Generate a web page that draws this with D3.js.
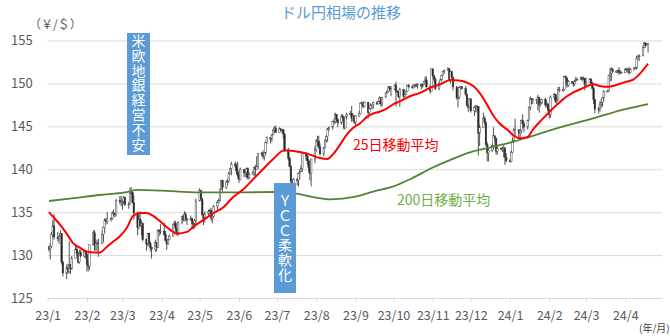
<!DOCTYPE html>
<html><head><meta charset="utf-8">
<script src="https://cdn.jsdelivr.net/npm/d3@7"></script>
<style>body{margin:0;background:#fff;overflow:hidden}</style>
</head><body><svg id="c" width="670" height="336"></svg>
<script>
// ---------- DATA ----------
const months = ["2023-01","2023-02","2023-03","2023-04","2023-05","2023-06","2023-07","2023-08","2023-09","2023-10","2023-11","2023-12","2024-01","2024-02","2024-03","2024-04"];
const firstOpen = 130.9;
const closeByMonth = [
 [130.7,131.0,132.4,133.4,132.1,131.9,132.2,132.5,129.2,127.9,128.5,128.1,128.9,128.4,129.6,130.7,130.2,129.2,130.3,129.9,130.4,130.1],
 [128.9,128.7,131.2,132.6,131.1,131.4,131.4,131.4,132.4,133.2,134.1,133.9,134.2,134.3,134.9,134.9,134.7,136.4,136.2,136.2],
 [136.2,136.7,135.9,135.9,137.2,137.3,136.1,134.9,133.2,134.2,133.4,133.7,131.8,131.3,132.5,131.4,130.9,130.7,131.5,130.9,132.9,132.7,132.8],
 [132.4,131.7,131.3,131.8,132.2,133.6,133.7,133.1,132.6,133.8,134.5,134.1,134.7,134.2,134.1,134.3,133.7,133.6,134.0,136.3],
 [137.5,136.5,134.7,134.3,134.8,135.1,135.2,134.3,134.5,135.7,136.1,136.4,137.7,138.7,137.9,138.6,138.6,139.5,140.1,140.6,140.4,139.8,139.3],
 [138.8,140.0,139.6,139.6,140.1,139.0,139.4,139.6,140.2,140.0,140.3,141.8,141.9,141.5,141.9,143.1,143.7,143.5,144.0,144.5,144.8,144.3],
 [144.7,144.5,144.6,144.1,142.1,141.3,140.3,138.6,138.1,138.8,138.7,139.5,139.7,140.1,141.8,141.5,141.0,140.2,139.5,141.2,142.3],
 [143.3,143.3,142.6,141.8,142.5,143.4,143.8,144.7,144.9,145.6,145.6,146.4,145.8,145.4,146.2,145.9,144.8,146.1,146.4,146.5,145.9,146.2,145.5],
 [146.2,146.5,147.7,147.7,147.3,147.8,146.6,147.1,147.5,147.5,147.8,147.6,147.9,148.3,147.6,148.4,148.9,149.1,149.6,149.3,149.4],
 [149.8,149.0,149.1,148.5,149.3,148.5,148.7,149.1,149.8,149.6,149.5,149.8,149.8,149.9,149.9,149.7,149.9,150.2,150.4,149.6,149.1,151.7],
 [150.9,150.5,149.4,150.0,150.4,150.9,151.4,151.5,151.7,150.4,151.4,150.7,149.6,148.3,148.4,149.5,149.6,149.4,148.7,147.4,147.2,148.2],
 [146.8,147.2,147.2,147.3,144.2,144.9,145.9,145.4,142.9,141.9,142.2,142.8,143.9,143.6,142.1,142.4,142.4,142.4,142.5,141.4,141.0],
 [140.9,142.0,143.3,144.6,144.6,144.2,144.5,145.7,145.3,144.9,145.7,147.2,148.2,148.1,148.1,148.1,148.4,147.5,147.7,148.1,147.5,147.6,146.9],
 [146.4,148.4,148.7,147.9,148.0,149.3,149.3,149.3,150.8,150.6,149.8,150.2,150.1,150.0,150.3,150.5,150.5,150.7,150.5,150.6,149.9],
 [150.1,150.5,150.0,149.4,148.1,147.0,147.0,147.6,147.8,148.3,149.1,149.1,150.9,151.2,151.6,151.4,151.4,151.5,151.3,151.3,151.3],
 [151.6,151.6,151.6,151.3,151.6,151.8,151.8,152.9,153.2,153.2,154.2,154.7,154.4,154.6,154.6]
];
const highByMonth = [
 [131.1,131.4,132.7,134.1,134.8,132.7,132.3,132.9,132.5,129.3,128.9,128.9,131.6,128.9,129.9,131.1,131.0,130.3,130.6,130.6,130.6,130.5],
 [130.5,129.3,131.2,132.9,132.9,131.6,131.8,131.9,132.9,133.3,134.3,134.3,135.0,134.4,135.1,135.3,134.9,136.5,136.9,136.9],
 [136.5,136.9,136.8,136.2,137.9,137.9,137.4,136.9,135.1,134.8,135.1,134.0,133.8,131.9,132.6,132.6,131.6,131.0,131.8,131.5,133.0,133.0,133.6],
 [133.8,132.8,131.8,131.9,132.4,133.6,134.0,134.0,133.2,133.9,134.6,134.7,135.1,135.0,134.3,134.6,134.3,134.0,134.2,136.6],
 [137.8,137.6,136.7,134.8,135.1,135.3,135.4,135.5,134.8,135.8,136.4,136.6,137.7,138.7,138.8,138.7,138.9,139.7,140.2,140.9,140.9,140.7,140.9],
 [139.5,140.2,140.0,139.8,140.2,140.2,139.6,139.8,140.3,140.5,141.5,141.9,142.0,142.2,142.0,143.2,143.8,143.7,144.1,144.7,145.0,145.1],
 [144.9,144.8,144.7,144.7,144.2,142.5,141.4,140.5,138.8,139.0,139.0,139.6,140.0,140.5,141.9,142.0,141.8,141.2,140.9,141.2,142.7],
 [143.5,143.9,143.9,143.0,142.6,143.5,144.0,144.8,145.0,145.6,145.9,146.6,146.4,145.9,146.4,146.4,146.1,146.1,146.6,146.8,147.4,146.5,146.3],
 [146.3,146.8,147.8,147.9,147.9,147.9,147.0,147.2,147.7,147.5,147.9,147.9,148.0,148.5,148.4,148.4,148.9,149.2,149.7,149.7,149.7],
 [149.9,150.2,149.2,149.1,149.5,149.3,148.8,149.2,149.8,149.9,149.8,149.9,149.9,150.0,150.0,150.0,150.0,150.3,150.8,150.8,149.8,151.7],
 [151.7,151.0,150.7,150.2,150.6,151.0,151.4,151.6,151.9,151.8,151.5,151.4,150.8,149.7,148.6,149.7,149.7,149.7,149.7,148.8,147.6,148.3],
 [148.2,147.4,147.5,147.5,147.3,145.2,146.6,146.2,145.6,143.2,142.5,143.0,144.9,143.9,143.7,142.7,142.6,142.6,142.9,141.9,141.9],
 [141.2,142.2,143.7,144.8,145.9,144.6,144.7,145.8,146.4,145.6,145.8,147.3,148.5,148.3,148.3,148.2,148.7,148.3,148.0,148.2,148.3,147.9,147.7],
 [147.0,148.6,148.9,148.8,148.4,149.6,149.6,149.6,150.9,150.9,150.7,150.4,150.2,150.2,150.4,150.8,150.6,150.8,150.6,150.8,150.6],
 [150.7,150.6,150.6,150.2,149.6,148.2,147.3,147.9,148.2,148.4,149.2,149.2,151.0,151.8,151.9,151.8,151.5,151.6,151.9,151.6,151.4],
 [151.8,151.8,151.8,151.9,151.8,151.9,151.9,153.2,153.3,153.4,154.4,154.8,154.8,154.7,154.7]
];
const lowByMonth = [
 [130.4,129.5,130.8,132.1,131.8,131.6,131.3,132.1,128.9,127.5,127.2,127.8,127.9,127.8,128.3,129.6,129.9,129.0,129.0,129.7,129.7,129.6],
 [128.1,128.1,128.3,131.2,130.5,130.5,130.5,129.8,131.3,131.5,132.6,133.6,133.6,133.9,134.1,134.5,134.4,134.5,135.9,135.7],
 [135.3,135.9,135.7,135.4,135.9,137.0,136.0,134.1,132.3,133.0,133.3,132.3,131.6,130.5,131.0,131.1,130.4,129.6,130.4,130.4,130.8,132.2,132.4],
 [132.2,131.6,130.6,131.2,131.7,132.2,133.4,132.7,132.3,132.2,133.6,133.9,134.0,133.9,133.5,134.0,133.0,133.0,133.1,133.5],
 [136.3,136.3,134.5,133.5,133.8,134.6,134.9,134.0,133.7,134.3,135.3,136.0,136.2,137.6,137.4,137.7,138.1,138.4,139.4,139.3,140.1,139.4,138.9],
 [138.4,138.7,139.1,139.1,139.0,138.8,138.8,139.3,139.2,139.0,140.0,140.0,141.5,141.2,141.0,141.6,142.9,143.0,143.2,144.0,144.2,144.3],
 [144.4,144.4,144.2,143.5,142.1,141.0,140.3,138.4,137.3,137.3,138.1,138.0,138.8,139.7,139.7,141.0,140.6,139.6,138.7,138.0,140.7],
 [142.0,142.7,142.4,141.6,141.5,142.5,143.1,143.2,144.4,144.6,145.2,145.3,145.5,144.9,145.2,145.5,144.6,144.9,145.8,146.3,145.5,145.6,145.3],
 [144.9,146.1,146.5,147.4,147.1,147.2,145.9,146.4,146.9,147.0,147.0,147.5,147.6,147.6,147.3,147.3,148.3,148.8,149.0,149.1,148.5],
 [149.2,147.3,148.9,148.3,147.3,148.2,148.4,148.7,149.1,149.5,149.4,149.4,149.5,149.6,149.4,149.3,149.5,149.8,150.1,149.5,148.8,149.1],
 [150.7,150.1,149.2,149.2,149.9,150.3,150.8,151.1,151.5,150.2,150.0,150.6,149.2,148.1,147.2,148.2,149.3,149.3,148.6,147.4,146.7,147.2],
 [146.6,146.2,146.6,146.7,141.6,142.7,144.9,145.3,142.7,140.9,140.9,142.0,142.3,143.2,141.7,141.7,142.2,142.0,141.4,140.5,140.8],
 [140.8,140.8,141.9,143.1,143.8,143.6,143.4,144.2,144.8,144.3,144.6,145.7,146.9,147.6,147.6,147.6,146.9,146.6,147.3,147.6,147.2,147.2,146.6],
 [145.9,146.0,148.1,147.7,147.6,148.0,149.0,149.0,149.2,150.0,149.5,149.6,149.9,149.6,149.7,150.2,150.3,150.4,150.2,150.4,149.2],
 [149.7,150.1,149.8,149.3,147.6,146.5,146.5,146.7,147.1,147.3,147.9,149.0,149.1,150.2,150.3,151.2,151.2,151.2,151.0,151.1,151.2],
 [151.2,151.4,151.2,151.0,151.2,151.5,151.7,151.6,152.7,152.6,153.2,154.1,154.2,154.4,153.6]
];
const ma25Dates = ["2023-01-02","2023-01-05","2023-01-11","2023-01-16","2023-01-21","2023-01-26","2023-02-01","2023-02-06","2023-02-11","2023-02-17","2023-02-22","2023-02-27","2023-03-05","2023-03-09","2023-03-15","2023-03-20","2023-03-25","2023-03-31","2023-04-08","2023-04-13","2023-04-21","2023-04-26","2023-05-04","2023-05-12","2023-05-20","2023-05-27","2023-06-04","2023-06-12","2023-06-20","2023-06-28","2023-07-07","2023-07-19","2023-07-27","2023-08-04","2023-08-10","2023-08-14","2023-08-20","2023-08-25","2023-08-30","2023-09-05","2023-09-10","2023-09-15","2023-09-20","2023-09-26","2023-10-01","2023-10-06","2023-10-14","2023-10-22","2023-10-30","2023-11-07","2023-11-15","2023-11-23","2023-11-28","2023-12-03","2023-12-08","2023-12-14","2023-12-19","2023-12-24","2023-12-30","2024-01-04","2024-01-09","2024-01-15","2024-01-19","2024-01-25","2024-01-30","2024-02-04","2024-02-10","2024-02-15","2024-02-20","2024-02-26","2024-03-02","2024-03-07","2024-03-12","2024-03-18","2024-03-22","2024-03-28","2024-04-02","2024-04-07","2024-04-13","2024-04-19"];
const ma25Values = [135.0,134.5,133.5,132.5,131.4,130.9,130.4,130.3,130.3,131.0,131.6,132.2,133.3,134.5,134.9,134.9,134.6,133.9,132.9,132.5,132.7,133.3,134.1,134.9,135.6,136.7,137.6,138.8,140.0,141.2,142.2,142.0,141.7,141.3,141.2,141.7,142.9,144.0,144.8,145.4,146.1,146.5,146.7,147.1,147.6,147.9,148.5,148.9,149.5,149.9,150.4,150.3,150.1,149.7,148.9,147.5,146.2,145.3,144.6,143.9,143.6,143.75,144.6,145.6,146.35,147.1,147.9,148.5,148.95,149.35,149.7,149.9,149.7,149.6,149.7,149.97,150.2,150.4,151.2,152.3];
const ma200Dates = ["2023-01-02","2023-01-20","2023-02-11","2023-03-03","2023-03-13","2023-04-01","2023-05-01","2023-06-01","2023-07-01","2023-07-15","2023-08-01","2023-08-12","2023-09-01","2023-09-15","2023-10-01","2023-10-15","2023-11-01","2023-11-15","2023-12-01","2023-12-15","2024-01-01","2024-01-15","2024-02-01","2024-02-15","2024-03-01","2024-03-15","2024-04-01","2024-04-19"];
const ma200Values = [136.3,136.6,137.0,137.3,137.6,137.5,137.3,137.3,137.35,137.2,136.7,136.5,136.8,137.4,138.0,138.9,140.2,141.1,142.0,142.5,143.1,143.7,144.5,145.1,145.7,146.3,147.0,147.6];
const xTickLabels = ["23/1","23/2","23/3","23/4","23/5","23/6","23/7","23/8","23/9","23/10","23/11","23/12","24/1","24/2","24/3","24/4"];
const yTickValues = [125,130,135,140,145,150,155];

// ---------- BUILD ----------
function weekdaysOf(ym){
  const [yy,m] = ym.split("-").map(Number);
  const out=[];
  for(let d=1; d<=31; d++){
    const dt = new Date(Date.UTC(yy,m-1,d));
    if(dt.getUTCMonth()!==m-1) break;
    const wd = dt.getUTCDay();
    if(wd!==0 && wd!==6) out.push(dt);
  }
  return out;
}
const candles=[];
let prev = firstOpen;
months.forEach((ym,i)=>{
  const days = weekdaysOf(ym);
  closeByMonth[i].forEach((c,j)=>{
    const h = highByMonth[i][j], l = lowByMonth[i][j];
    candles.push({date:days[j], o:prev, h:Math.max(h,prev,c), l:Math.min(l,prev,c), c});
    prev = c;
  });
});
const parse = d3.utcParse("%Y-%m-%d");
const ma25 = ma25Dates.map((d,i)=>({date:parse(d), v:ma25Values[i]}));
const ma200 = ma200Dates.map((d,i)=>({date:parse(d), v:ma200Values[i]}));

const svg = d3.select("#c");
const F = "'Noto Sans CJK JP','Noto Sans',sans-serif";
const x = d3.scaleUtc().domain([parse("2023-01-01"), parse("2024-04-30")]).range([47.7, 662]);
const y = d3.scaleLinear().domain([125,155]).range([298, 40.5]);

// grid + y labels
const gy = svg.append("g").attr("transform","translate(47.7,0)")
  .call(d3.axisLeft(y).tickValues(yTickValues).tickSize(-(662-47.7)).tickPadding(15).tickFormat(d3.format("d")));
gy.select(".domain").remove();
gy.selectAll(".tick line").attr("stroke","#d9d9d9").attr("stroke-width",1);
gy.selectAll(".tick text").attr("fill","#595959").style("font-family",F).style("font-size","13px");

// x axis
const tickDates = xTickLabels.map(s=>{const [yy,mm]=s.split("/").map(Number); return new Date(Date.UTC(2000+yy,mm-1,1));});
const gx = svg.append("g").attr("transform","translate(0,298)")
  .call(d3.axisBottom(x).tickValues(tickDates).tickSize(4).tickSizeOuter(0).tickPadding(9)
    .tickFormat((d,i)=>xTickLabels[i]));
gx.select(".domain").attr("stroke","#d9d9d9");
gx.selectAll(".tick line").attr("stroke","#d9d9d9");
gx.selectAll(".tick text").attr("fill","#595959").style("font-family",F).style("font-size","12.5px");

// candles
const cg = svg.append("g");
cg.selectAll("line.w").data(candles).join("line").attr("class","w")
  .attr("x1",d=>x(d.date)).attr("x2",d=>x(d.date))
  .attr("y1",d=>y(d.h)).attr("y2",d=>y(d.l))
  .attr("stroke","#404040").attr("stroke-width",0.9);
cg.selectAll("rect").data(candles).join("rect")
  .attr("x",d=>x(d.date)-0.8).attr("width",1.6)
  .attr("y",d=>y(Math.max(d.o,d.c)))
  .attr("height",d=>Math.max(0.8, Math.abs(y(d.o)-y(d.c))))
  .attr("fill",d=>d.c>=d.o?"#ffffff":"#262626")
  .attr("stroke","#404040").attr("stroke-width",0.5);

// moving averages
const line = d3.line().x(d=>x(d.date)).y(d=>y(d.v)).curve(d3.curveMonotoneX);
svg.append("path").datum(ma200).attr("d",line).attr("fill","none").attr("stroke","#548235").attr("stroke-width",1.8);
svg.append("path").datum(ma25).attr("d",line).attr("fill","none").attr("stroke","#ff0000").attr("stroke-width",2);

// title & units
svg.append("text").attr("x",341).attr("y",11).attr("text-anchor","middle").attr("dominant-baseline","central")
  .attr("fill","#5b9bd5").style("font-family",F).style("font-size","15px").text("ドル円相場の推移");
svg.append("text").attr("x",29).attr("y",23).attr("dominant-baseline","central")
  .attr("fill","#595959").style("font-family",F).style("font-size","12px").text("（￥/＄）");
svg.append("text").attr("x",639).attr("y",327).attr("dominant-baseline","central")
  .attr("fill","#404040").style("font-family",F).style("font-size","10px").text("(年/月)");

// MA labels
svg.append("text").attr("x",353).attr("y",144).attr("dominant-baseline","central")
  .attr("fill","#ff0000").style("font-family",F).style("font-size","14px").text("25日移動平均");
svg.append("text").attr("x",397).attr("y",199).attr("dominant-baseline","central")
  .attr("fill","#70ad47").style("font-family",F).style("font-size","14px").text("200日移動平均");

// annotation boxes with vertical text
function vbox(x0,y0,w,h,txt,cy,fs,ls){
  svg.append("rect").attr("x",x0).attr("y",y0).attr("width",w).attr("height",h).attr("fill","#5b9bd5");
  svg.append("text").attr("x",x0+w/2).attr("y",cy)
    .attr("text-anchor","middle")
    .style("writing-mode","vertical-rl").style("text-orientation","upright")
    .style("letter-spacing",ls+"px")
    .attr("fill","#ffffff").style("font-family",F).style("font-size",fs+"px").text(txt);
}
vbox(127,33,23,122,"米欧地銀経営不安",93,14,0.9);
vbox(274,183,22,110,"ＹＣＣ柔軟化",238,14,0.6);
</script></body></html>
